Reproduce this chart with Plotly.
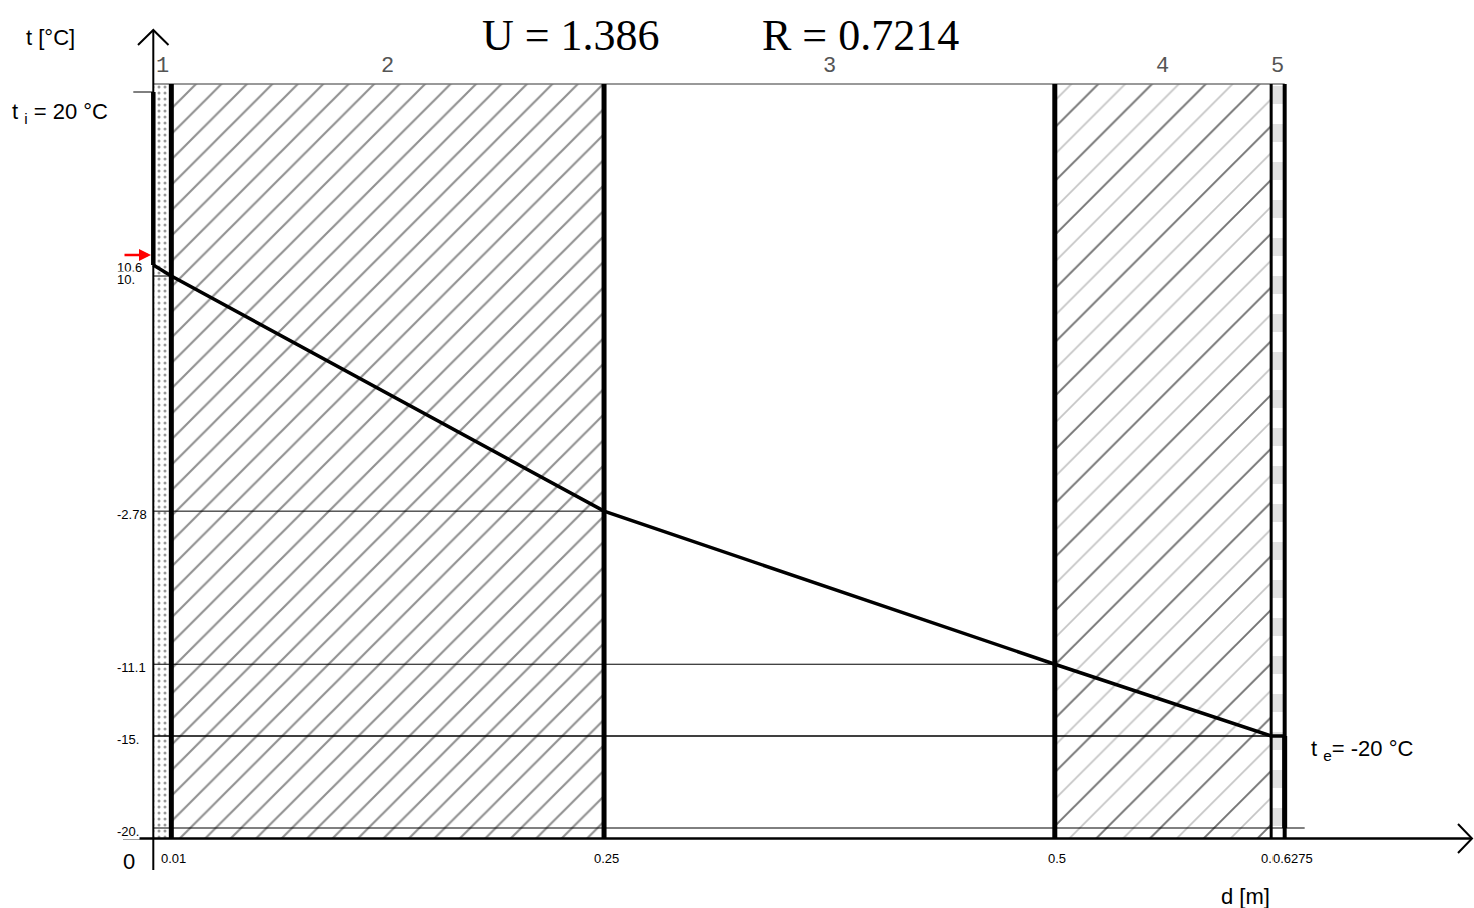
import numpy as np
import plotly.graph_objects as go

# wall layers (thickness in m) and temperatures at the interfaces (deg C)
layer_names = ["1", "2", "3", "4", "5"]
thickness = [0.01, 0.24, 0.25, 0.12, 0.0075]
t_interfaces = [10.6, 10.0, -2.78, -11.1, -15.0, -15.0]
t_i = 20.0
t_e = -20.0
U = 1.386
R = 0.7214
x_tick_labels = ["0.01", "0.25", "0.5", "0.62", "0.6275"]
y_tick_vals = [10.6, 10.0, -2.78, -11.1, -15.0, -20.0]
y_tick_labels = ["10.6", "10.", "-2.78", "-11.1", "-15.", "-20."]

# layer patterns
pat_shape = [".", "/", "", "/", "-"]
pat_size = [6, 18, 10, 19, 38]
pat_solid = [0.2, 0.12, 0.1, 0.09, 0.48]
pat_color = ["#333333", "#222222", "#ffffff", "#8a8a8a", "#c4c4c4"]
edge_width = [5, 5, 5, 3, 4]

# page geometry (pixels) -> data mapping
W, H = 1474, 908
X0, SX = 153.3, 1803.0     # px of d=0, px per metre
Y0, SY = 828.0, 18.4       # px of t=-20, px per deg C
T_BOT, T_TOP = -20.6, 20.43


def dx(p):
    return (p - X0) / SX


def dy(p):
    return -20.0 + (Y0 - p) / SY


def px(p):
    return p / W


def py(p):
    return 1 - p / H


bound = np.concatenate([[0.0], np.cumsum(thickness)])
mids = (bound[:-1] + bound[1:]) / 2
tick = 20 / SX

fig = go.Figure()

# layer fills
fig.add_trace(go.Bar(
    x=mids, width=thickness, base=T_BOT, y=[T_TOP - T_BOT] * len(thickness),
    marker=dict(color="white", line_width=0,
                pattern=dict(shape=pat_shape, size=pat_size, solidity=pat_solid,
                             fgcolor=pat_color, bgcolor="white")),
    hoverinfo="skip"))
# layer 4: every other hatch line solid (the others look dashed)
fig.add_trace(go.Bar(
    x=[mids[3]], width=[thickness[3]], base=T_BOT, y=[T_TOP - T_BOT],
    marker=dict(color="rgba(0,0,0,0)", line_width=0,
                pattern=dict(shape="/", size=38, solidity=0.05, fgcolor="#222222",
                             bgcolor="rgba(0,0,0,0)")),
    hoverinfo="skip"))

blk = "black"
# top edge
fig.add_trace(go.Scatter(x=[0, bound[-1]], y=[T_TOP, T_TOP], mode="lines",
                         line=dict(color="#777777", width=1.5)))
# horizontal temperature lines
for i in range(1, len(bound)):
    fig.add_trace(go.Scatter(x=[0, bound[i]], y=[t_interfaces[i]] * 2, mode="lines",
                             line=dict(color=blk, width=1)))
fig.add_trace(go.Scatter(x=[0, bound[-1] + tick], y=[t_e, t_e], mode="lines",
                         line=dict(color=blk, width=1)))
fig.add_trace(go.Scatter(x=[-tick, 0], y=[t_i, t_i], mode="lines",
                         line=dict(color=blk, width=1)))
# layer edges
for i in range(1, len(bound)):
    fig.add_trace(go.Scatter(x=[bound[i]] * 2, y=[T_BOT, T_TOP], mode="lines",
                             line=dict(color=blk, width=edge_width[i - 1])))
# surface drops
fig.add_trace(go.Scatter(x=[0, 0], y=[t_i, t_interfaces[0]], mode="lines",
                         line=dict(color=blk, width=4.5)))
fig.add_trace(go.Scatter(x=[bound[-1]] * 2, y=[t_interfaces[-1], t_e], mode="lines",
                         line=dict(color=blk, width=5)))
# temperature profile
fig.add_trace(go.Scatter(x=bound, y=t_interfaces, mode="lines",
                         line=dict(color=blk, width=3.5)))

# axes with open arrow heads
shapes = [
    dict(type="line", xref="paper", yref="paper", x0=px(123), x1=px(1472),
         y0=py(838.5), y1=py(838.5), line=dict(color=blk, width=2.5)),
    dict(type="line", xref="paper", yref="paper", x0=px(153.3), x1=px(153.3),
         y0=py(870), y1=py(30), line=dict(color=blk, width=2)),
    dict(type="path", xref="paper", yref="paper",
         path=f"M {px(138)},{py(45)} L {px(153.3)},{py(30)} L {px(168.5)},{py(45)}",
         line=dict(color=blk, width=2)),
    dict(type="path", xref="paper", yref="paper",
         path=f"M {px(1458)},{py(824)} L {px(1472)},{py(838.5)} L {px(1458)},{py(853)}",
         line=dict(color=blk, width=2)),
]

sans = "Liberation Sans, Arial, sans-serif"
serif = "Liberation Serif, Times New Roman, serif"
ann = []


def label(text, x, y, size, family=sans, color=blk, ref="paper", **kw):
    d = dict(text=text, x=x, y=y, showarrow=False, xanchor="center", yanchor="middle",
             font=dict(family=family, size=size, color=color))
    if ref == "paper":
        d.update(xref="paper", yref="paper")
    d.update(kw)
    ann.append(d)


# title
label(f"U = {U}", px(571), py(36), 44, family=serif)
label(f"R = {R}", px(860), py(36), 44, family=serif)
# layer numbers
for m, name in zip(mids, layer_names):
    label(name, m, dy(66), 22, family="Liberation Mono, Courier New, monospace",
          color="#555555", ref="data")
# axis captions
label("t [°C]", px(50), py(38), 22)
label("d [m]", px(1245), py(896), 22)
label("0", px(129), py(861), 22)
label(f"t <sub>i</sub> = {t_i:.0f} °C", px(10), py(113), 22, xanchor="left")
label(f"t <sub>e</sub>= {t_e:.0f} °C", px(1309), py(750), 22, xanchor="left")
# y tick labels
for v, lab in zip(y_tick_vals, y_tick_labels):
    label(lab, dx(116), v, 13, ref="data", yshift=-3, xanchor="left",
          bgcolor="white", borderpad=0)
# x tick labels
for k, (v, lab) in enumerate(zip(bound[1:], x_tick_labels)):
    label(lab, v, dy(858), 13, ref="data",
          xshift=8 if k == len(x_tick_labels) - 1 else 2, bgcolor="white", borderpad=0)
# red arrow at the inner surface
ann.append(dict(text="", x=dx(151), y=dy(255), ax=-28, ay=0, showarrow=True,
                arrowhead=2, arrowsize=1.0, arrowwidth=2.4, arrowcolor="red"))

fig.update_layout(
    width=W, height=H, margin=dict(l=0, r=0, t=0, b=0), barmode="overlay",
    paper_bgcolor="white", plot_bgcolor="white", showlegend=False,
    xaxis=dict(visible=False, range=[dx(0), dx(W)], fixedrange=True),
    yaxis=dict(visible=False, range=[dy(H), dy(0)], fixedrange=True),
    shapes=shapes, annotations=ann,
)

fig.write_html("out.html", config={"displayModeBar": False},
               post_script="document.body.style.margin='0';")
